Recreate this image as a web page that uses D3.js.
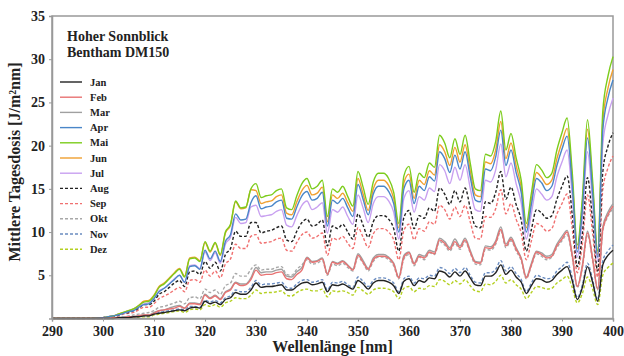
<!DOCTYPE html>
<html>
<head>
<meta charset="utf-8">
<script src="https://cdn.jsdelivr.net/npm/d3@7"></script>
<style>
  body { margin: 0; background: #fff; }
  svg text { font-family: "Liberation Serif", "Times New Roman", serif; font-weight: bold; fill: #222; }
</style>
</head>
<body>
<div id="chart"></div>
<script>
// wavelengths [nm]
const wl = [290, 295,
  300, 301, 302, 303, 304, 305, 306, 307, 308, 309,
  310, 311, 312, 313, 314, 315, 316, 317, 318, 319,
  320, 321, 322, 323, 324, 325, 326, 327, 328, 329,
  330, 331, 332, 333, 334, 335, 336, 337, 338, 339,
  340, 341, 342, 343, 344, 345, 346, 347, 348, 349,
  350, 351, 352, 353, 354, 355, 356, 357, 358, 359,
  360, 361, 362, 363, 364, 365, 366, 367, 368, 369,
  370, 371, 372, 373, 374, 375, 376, 377, 378, 379,
  380, 381, 382, 383, 384, 385, 386, 387, 388, 389,
  390, 391, 392, 393, 394, 395, 396, 397, 398, 399, 400];

const months = ['Jan', 'Feb', 'Mar', 'Apr', 'Mai', 'Jun', 'Jul', 'Aug', 'Sep', 'Okt', 'Nov', 'Dez'];

// mean daily dose [J/m²nm] per month
const jan = [0, 0,
  0.0, 0.0, 0.0, 0.1, 0.1, 0.1, 0.2, 0.2, 0.3, 0.3,
  0.5, 0.6, 0.7, 0.8, 0.9, 1.0, 0.9, 1.2, 1.3, 1.2,
  2.0, 1.7, 1.9, 1.6, 2.2, 2.4, 3.0, 2.8, 2.8, 3.3,
  4.1, 3.6, 3.7, 3.7, 3.8, 3.9, 3.3, 3.3, 3.7, 4.1,
  4.2, 3.9, 4.0, 4.2, 3.1, 3.9, 3.8, 4.0, 3.7, 3.4,
  4.4, 4.0, 3.4, 4.1, 4.4, 4.4, 4.2, 3.8, 2.9, 4.3,
  4.6, 3.8, 4.4, 4.2, 4.7, 4.6, 5.5, 5.3, 4.8, 5.4,
  4.9, 5.5, 4.7, 3.9, 3.8, 4.9, 4.9, 5.3, 6.2, 5.1,
  5.6, 4.8, 4.2, 2.9, 3.8, 4.6, 4.5, 4.2, 4.4, 5.1,
  5.6, 6.0, 4.4, 2.2, 3.6, 6.0, 4.2, 2.0, 6.2, 7.3, 7.9];
const feb = [0, 0,
  0.0, 0.0, 0.1, 0.1, 0.1, 0.2, 0.2, 0.3, 0.4, 0.4,
  0.6, 0.9, 1.0, 1.1, 1.2, 1.4, 1.2, 1.7, 1.7, 1.6,
  2.7, 2.3, 2.6, 2.2, 3.0, 3.3, 4.1, 3.8, 3.9, 4.5,
  5.6, 5.0, 5.1, 5.1, 5.3, 5.4, 4.6, 4.5, 5.1, 5.6,
  7.0, 6.5, 6.6, 6.9, 5.1, 6.5, 6.3, 6.6, 6.1, 5.6,
  7.3, 6.5, 5.7, 6.8, 7.2, 7.2, 7.0, 6.3, 4.7, 7.1,
  7.6, 6.3, 7.2, 7.0, 7.7, 7.5, 9.1, 8.7, 8.0, 8.9,
  8.2, 9.1, 7.7, 6.5, 6.4, 8.2, 8.1, 8.8, 10.3, 8.4,
  9.2, 8.0, 6.9, 4.7, 6.2, 7.7, 7.4, 7.0, 7.2, 8.4,
  9.2, 10.0, 7.3, 3.7, 6.0, 9.9, 6.9, 3.4, 10.3, 12.0, 13.0];
const mar = [0, 0,
  0.0, 0.0, 0.1, 0.1, 0.2, 0.2, 0.2, 0.3, 0.4, 0.4,
  0.7, 0.9, 1.0, 1.2, 1.4, 1.5, 1.2, 1.8, 1.8, 1.7,
  2.8, 2.4, 2.7, 2.3, 3.1, 3.4, 4.2, 4.0, 4.0, 4.7,
  5.9, 5.3, 5.4, 5.4, 5.6, 5.7, 4.9, 4.8, 5.4, 5.9,
  7.1, 6.6, 6.7, 7.0, 5.2, 6.6, 6.4, 6.7, 6.2, 5.7,
  7.5, 6.7, 5.8, 7.0, 7.4, 7.4, 7.1, 6.4, 4.8, 7.3,
  7.7, 6.4, 7.4, 7.2, 7.9, 7.7, 9.3, 8.9, 8.2, 9.2,
  8.4, 9.3, 7.9, 6.6, 6.5, 8.4, 8.3, 9.0, 10.6, 8.6,
  9.4, 8.2, 7.0, 4.8, 6.4, 7.8, 7.6, 7.2, 7.4, 8.6,
  9.5, 10.2, 7.5, 3.7, 6.2, 10.1, 7.0, 3.4, 10.6, 12.3, 13.3];
const apr = [0, 0,
  0.1, 0.2, 0.3, 0.4, 0.6, 0.8, 0.9, 1.3, 1.6, 1.7,
  2.3, 3.1, 3.5, 4.0, 4.5, 5.0, 4.2, 6.0, 6.1, 5.7,
  7.9, 6.9, 7.8, 6.6, 8.9, 9.7, 12.1, 11.4, 11.5, 13.4,
  14.2, 12.7, 12.9, 13.0, 13.5, 13.7, 11.6, 11.5, 12.9, 14.2,
  14.7, 13.7, 13.9, 14.6, 10.7, 13.7, 13.3, 13.9, 12.8, 11.8,
  15.5, 13.8, 12.0, 14.4, 15.3, 15.3, 14.7, 13.3, 10.0, 15.0,
  16.0, 13.3, 15.3, 14.8, 16.4, 15.9, 19.3, 18.5, 16.9, 18.9,
  17.3, 19.3, 16.4, 13.7, 13.5, 17.3, 17.1, 18.7, 21.8, 17.7,
  19.5, 16.9, 14.6, 10.0, 13.2, 16.2, 15.7, 14.8, 15.3, 17.7,
  19.6, 21.1, 15.5, 7.7, 12.7, 20.9, 14.6, 7.1, 21.8, 25.5, 27.6];
const mai = [0, 0,
  0.1, 0.2, 0.3, 0.5, 0.7, 0.9, 1.1, 1.5, 1.9, 2.0,
  2.6, 3.6, 4.0, 4.6, 5.2, 5.7, 4.8, 6.9, 7.0, 6.6,
  8.9, 7.8, 8.8, 7.4, 10.0, 10.9, 13.6, 12.8, 12.9, 15.0,
  15.6, 14.0, 14.2, 14.3, 14.8, 15.0, 12.8, 12.6, 14.2, 15.6,
  16.2, 15.0, 15.3, 16.0, 11.8, 15.0, 14.6, 15.3, 14.1, 13.0,
  17.0, 15.2, 13.2, 15.8, 16.8, 16.8, 16.2, 14.6, 11.0, 16.5,
  17.6, 14.6, 16.8, 16.3, 18.0, 17.5, 21.2, 20.3, 18.6, 20.8,
  19.0, 21.2, 18.0, 15.0, 14.8, 19.0, 18.8, 20.5, 24.0, 19.5,
  21.4, 18.6, 16.0, 11.0, 14.5, 17.8, 17.2, 16.3, 16.8, 19.5,
  21.5, 23.2, 17.0, 8.5, 14.0, 23.0, 16.0, 7.8, 24.0, 28.0, 30.3];
const jun = [0, 0,
  0.1, 0.2, 0.3, 0.5, 0.7, 0.9, 1.1, 1.5, 2.0, 2.1,
  2.7, 3.7, 4.1, 4.7, 5.3, 5.8, 4.9, 7.0, 7.1, 6.7,
  8.8, 7.7, 8.7, 7.3, 9.9, 10.8, 13.5, 12.7, 12.8, 14.9,
  14.8, 13.3, 13.5, 13.6, 14.1, 14.3, 12.2, 12.0, 13.5, 14.8,
  15.4, 14.3, 14.5, 15.2, 11.2, 14.3, 13.9, 14.5, 13.4, 12.4,
  16.2, 14.4, 12.5, 15.0, 16.0, 16.0, 15.4, 13.9, 10.5, 15.7,
  16.7, 13.9, 16.0, 15.5, 17.1, 16.6, 20.1, 19.3, 17.7, 19.8,
  18.1, 20.1, 17.1, 14.3, 14.1, 18.1, 17.9, 19.5, 22.8, 18.5,
  20.3, 17.7, 15.2, 10.5, 13.8, 16.9, 16.3, 15.5, 16.0, 18.5,
  20.4, 22.0, 16.2, 8.1, 13.3, 21.9, 15.2, 7.4, 22.8, 26.6, 28.8];
const jul = [0, 0,
  0.1, 0.2, 0.3, 0.5, 0.6, 0.8, 1.0, 1.4, 1.7, 1.8,
  2.3, 3.2, 3.5, 4.0, 4.6, 5.0, 4.2, 6.1, 6.2, 5.8,
  7.7, 6.7, 7.6, 6.4, 8.6, 9.4, 11.7, 11.0, 11.1, 12.9,
  13.1, 11.8, 11.9, 12.0, 12.4, 12.6, 10.8, 10.6, 11.9, 13.1,
  13.6, 12.6, 12.9, 13.4, 9.9, 12.6, 12.3, 12.9, 11.8, 10.9,
  14.3, 12.8, 11.1, 13.3, 14.1, 14.1, 13.6, 12.3, 9.2, 13.9,
  14.8, 12.3, 14.1, 13.7, 15.1, 14.7, 17.8, 17.1, 15.6, 17.5,
  16.0, 17.8, 15.1, 12.6, 12.4, 16.0, 15.8, 17.2, 20.2, 16.4,
  18.0, 15.6, 13.4, 9.2, 12.2, 15.0, 14.4, 13.7, 14.1, 16.4,
  18.1, 19.5, 14.3, 7.1, 11.8, 19.3, 13.4, 6.6, 20.2, 23.5, 25.5];
const aug = [0, 0,
  0.1, 0.2, 0.2, 0.4, 0.6, 0.7, 0.9, 1.2, 1.6, 1.6,
  2.0, 2.8, 3.1, 3.6, 4.1, 4.4, 3.7, 5.4, 5.5, 5.1,
  6.6, 5.8, 6.5, 5.5, 7.4, 8.1, 10.1, 9.5, 9.5, 11.1,
  11.1, 9.9, 10.1, 10.2, 10.5, 10.7, 9.1, 8.9, 10.1, 11.1,
  11.5, 10.7, 10.9, 11.4, 8.4, 10.7, 10.4, 10.9, 10.0, 9.2,
  12.1, 10.8, 9.4, 11.2, 11.9, 11.9, 11.5, 10.4, 7.8, 11.7,
  12.5, 10.4, 11.9, 11.6, 12.8, 12.4, 15.1, 14.4, 13.2, 14.8,
  13.5, 15.1, 12.8, 10.7, 10.5, 13.5, 13.3, 14.6, 17.0, 13.8,
  15.2, 13.2, 11.4, 7.8, 10.3, 12.6, 12.2, 11.6, 11.9, 13.8,
  15.3, 16.5, 12.1, 6.0, 9.9, 16.3, 11.4, 5.5, 17.0, 19.9, 21.5];
const sep = [0, 0,
  0.1, 0.1, 0.2, 0.3, 0.5, 0.6, 0.7, 1.0, 1.3, 1.3,
  1.7, 2.3, 2.6, 2.9, 3.3, 3.6, 3.1, 4.4, 4.5, 4.2,
  5.6, 4.9, 5.5, 4.7, 6.3, 6.9, 8.6, 8.1, 8.1, 9.5,
  9.7, 8.7, 8.8, 8.9, 9.2, 9.3, 7.9, 7.8, 8.8, 9.7,
  10.0, 9.3, 9.5, 9.9, 7.3, 9.3, 9.1, 9.5, 8.7, 8.1,
  10.5, 9.4, 8.2, 9.8, 10.4, 10.4, 10.0, 9.1, 6.8, 10.2,
  10.9, 9.1, 10.4, 10.1, 11.2, 10.9, 13.1, 12.6, 11.5, 12.9,
  11.8, 13.1, 11.2, 9.3, 9.2, 11.8, 11.7, 12.7, 14.9, 12.1,
  13.3, 11.5, 9.9, 6.8, 9.0, 11.0, 10.7, 10.1, 10.4, 12.1,
  13.3, 14.4, 10.5, 5.3, 8.7, 14.3, 9.9, 4.8, 14.9, 17.4, 18.8];
const okt = [0, 0,
  0.0, 0.1, 0.1, 0.2, 0.2, 0.3, 0.4, 0.5, 0.6, 0.7,
  0.9, 1.3, 1.4, 1.6, 1.8, 2.0, 1.7, 2.4, 2.5, 2.3,
  3.4, 3.0, 3.3, 2.8, 3.8, 4.1, 5.2, 4.9, 4.9, 5.7,
  6.2, 5.6, 5.7, 5.7, 5.9, 6.0, 5.1, 5.0, 5.7, 6.2,
  6.8, 6.3, 6.4, 6.7, 5.0, 6.3, 6.1, 6.4, 5.9, 5.5,
  7.1, 6.4, 5.5, 6.6, 7.1, 7.1, 6.8, 6.1, 4.6, 6.9,
  7.4, 6.1, 7.1, 6.8, 7.6, 7.4, 8.9, 8.5, 7.8, 8.7,
  8.0, 8.9, 7.6, 6.3, 6.2, 8.0, 7.9, 8.6, 10.1, 8.2,
  9.0, 7.8, 6.7, 4.6, 6.1, 7.5, 7.2, 6.8, 7.1, 8.2,
  9.0, 9.7, 7.1, 3.6, 5.9, 9.7, 6.7, 3.3, 10.1, 11.8, 12.7];
const nov = [0, 0,
  0.0, 0.0, 0.1, 0.1, 0.1, 0.2, 0.2, 0.3, 0.3, 0.3,
  0.5, 0.7, 0.8, 0.9, 1.0, 1.1, 1.0, 1.4, 1.4, 1.3,
  2.1, 1.9, 2.1, 1.8, 2.4, 2.6, 3.3, 3.1, 3.1, 3.6,
  4.4, 3.9, 4.0, 4.0, 4.1, 4.2, 3.6, 3.5, 4.0, 4.4,
  4.5, 4.2, 4.3, 4.5, 3.3, 4.2, 4.1, 4.3, 3.9, 3.6,
  4.8, 4.3, 3.7, 4.4, 4.7, 4.7, 4.5, 4.1, 3.1, 4.6,
  4.9, 4.1, 4.7, 4.6, 5.0, 4.9, 5.9, 5.7, 5.2, 5.8,
  5.3, 5.9, 5.0, 4.2, 4.1, 5.3, 5.3, 5.7, 6.7, 5.5,
  6.0, 5.2, 4.5, 3.1, 4.1, 5.0, 4.8, 4.6, 4.7, 5.5,
  6.0, 6.5, 4.8, 2.4, 3.9, 6.4, 4.5, 2.2, 6.7, 7.8, 8.5];
const dez = [0, 0,
  0.0, 0.0, 0.0, 0.1, 0.1, 0.1, 0.1, 0.2, 0.2, 0.2,
  0.4, 0.5, 0.6, 0.7, 0.8, 0.9, 0.7, 1.0, 1.1, 1.0,
  1.6, 1.4, 1.6, 1.3, 1.8, 2.0, 2.4, 2.3, 2.3, 2.7,
  3.3, 2.9, 3.0, 3.0, 3.1, 3.2, 2.7, 2.6, 3.0, 3.3,
  3.4, 3.2, 3.2, 3.4, 2.5, 3.2, 3.1, 3.2, 3.0, 2.7,
  3.6, 3.2, 2.8, 3.3, 3.5, 3.5, 3.4, 3.1, 2.3, 3.5,
  3.7, 3.1, 3.5, 3.4, 3.8, 3.7, 4.5, 4.3, 3.9, 4.4,
  4.0, 4.5, 3.8, 3.2, 3.1, 4.0, 3.9, 4.3, 5.0, 4.1,
  4.5, 3.9, 3.4, 2.3, 3.0, 3.7, 3.6, 3.4, 3.5, 4.1,
  4.5, 4.9, 3.6, 1.8, 2.9, 4.8, 3.4, 1.6, 5.0, 5.9, 6.4];

const xTicks = [290, 300, 310, 320, 330, 340, 350, 360, 370, 380, 390, 400];
const yTicks = [5, 10, 15, 20, 25, 30, 35];

const series = [jan, feb, mar, apr, mai, jun, jul, aug, sep, okt, nov, dez];
const colors = ['#222222', '#e87272', '#a0a0a0', '#4a86c8', '#7ccc1c', '#f0a030',
                '#c8a0f0', '#222222', '#f07070', '#a8a8a8', '#6a8cc0', '#b4d020'];
const dashed = [false, false, false, false, false, false, false, true, true, true, true, true];

const width = 624, height = 356;
const margin = { top: 16, right: 11, bottom: 37.5, left: 52 };

const svg = d3.select('#chart').append('svg')
  .attr('width', width)
  .attr('height', height);

const x = d3.scaleLinear()
  .domain([290, 400])
  .range([margin.left, width - margin.right]);

const y = d3.scaleLinear()
  .domain([0, 35])
  .range([height - margin.bottom, margin.top]);

// frame
svg.append('rect')
  .attr('x', margin.left)
  .attr('y', margin.top)
  .attr('width', width - margin.left - margin.right)
  .attr('height', height - margin.top - margin.bottom)
  .attr('fill', 'none')
  .attr('stroke', '#999')
  .attr('stroke-width', 1.5);

// lines (Dez first, Jan last, so Feb sits over Mar/Okt)
const line = d3.line()
  .x((d, i) => x(wl[i]))
  .y(d => y(d))
  .curve(d3.curveMonotoneX);

d3.range(series.length).reverse().forEach(i => {
  svg.append('path')
    .datum(series[i])
    .attr('d', line)
    .attr('fill', 'none')
    .attr('stroke', colors[i])
    .attr('stroke-width', 1.4)
    .attr('stroke-dasharray', dashed[i] ? '3,2' : null);
});

// axes
const xAxis = svg.append('g')
  .attr('transform', 'translate(0,' + (height - margin.bottom) + ')')
  .call(d3.axisBottom(x).tickValues(xTicks).tickSize(3).tickPadding(5).tickFormat(d3.format('d')));
const yAxis = svg.append('g')
  .attr('transform', 'translate(' + margin.left + ',0)')
  .call(d3.axisLeft(y).tickValues(yTicks).tickSize(3).tickPadding(4));

[xAxis, yAxis].forEach(g => {
  g.select('.domain').attr('stroke', '#999').attr('stroke-width', 1.5);
  g.selectAll('.tick line').attr('stroke', '#999');
  g.selectAll('.tick text')
    .style('font-family', '"Liberation Serif", serif')
    .style('font-weight', 'bold')
    .style('font-size', '14px')
    .attr('fill', '#222');
});

// axis titles
svg.append('text')
  .attr('x', (margin.left + width - margin.right) / 2)
  .attr('y', 352)
  .attr('text-anchor', 'middle')
  .style('font-size', '16px')
  .text('Wellenlänge [nm]');

svg.append('text')
  .attr('transform', 'translate(20,' + 162 + ') rotate(-90)')
  .attr('text-anchor', 'middle')
  .style('font-size', '16px')
  .text('Mittlere Tagesdosis [J/m²nm]');

// title
svg.append('text').attr('x', 67).attr('y', 41).style('font-size', '14px').text('Hoher Sonnblick');
svg.append('text').attr('x', 67).attr('y', 57).style('font-size', '14px').text('Bentham DM150');

// legend
const legend = svg.selectAll('.legend')
  .data(months)
  .enter()
  .append('g')
  .attr('class', 'legend')
  .attr('transform', (d, i) => 'translate(60,' + (82 + i * 15.2) + ')');

legend.append('line')
  .attr('x1', 0).attr('x2', 22)
  .attr('stroke', (d, i) => colors[i])
  .attr('stroke-width', 1.4)
  .attr('stroke-dasharray', (d, i) => dashed[i] ? '3,2' : null);

legend.append('text')
  .attr('x', 30)
  .attr('dy', '.35em')
  .style('font-size', '10.5px')
  .text(d => d);
</script>
</body>
</html>
